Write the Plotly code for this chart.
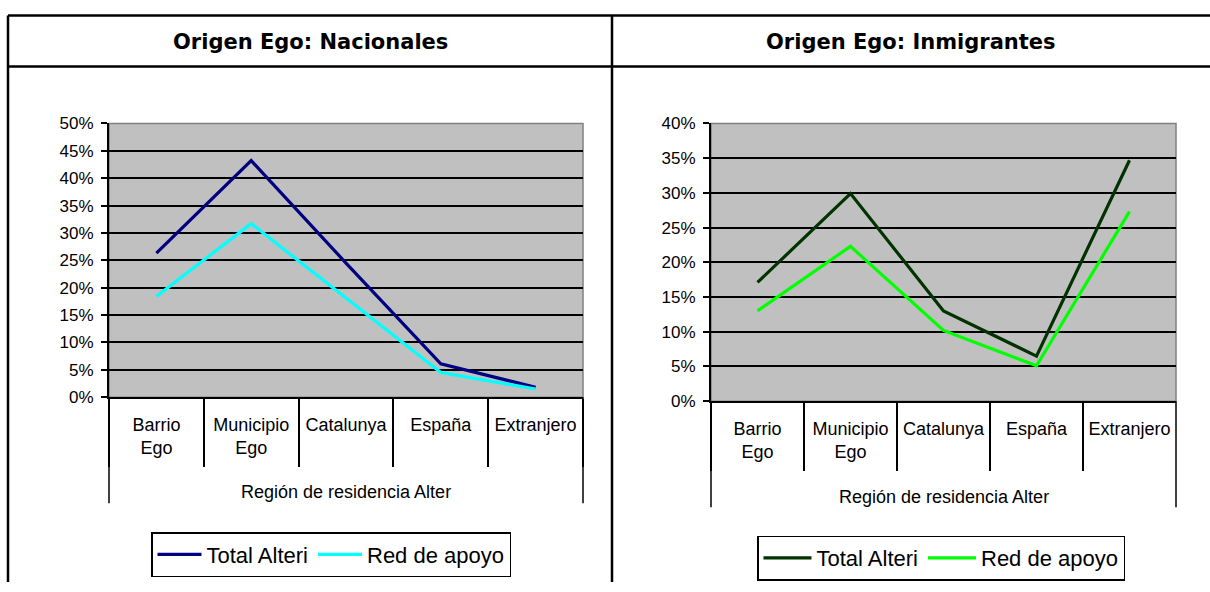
import plotly.graph_objects as go

# ---- data ----
categories = ["Barrio Ego", "Municipio Ego", "Catalunya", "España", "Extranjero"]
category_labels = ["Barrio<br>Ego", "Municipio<br>Ego", "Catalunya", "España", "Extranjero"]
nac_total = [0.263, 0.432, 0.245, 0.061, 0.018]
nac_red = [0.184, 0.317, 0.181, 0.045, 0.015]
inm_total = [0.171, 0.299, 0.130, 0.065, 0.347]
inm_red = [0.130, 0.223, 0.102, 0.051, 0.273]
series_names = ["Total Alteri", "Red de apoyo"]
panel_titles = ["Origen Ego: Nacionales", "Origen Ego: Inmigrantes"]
x_title = "Región de residencia Alter"

W, H = 1210, 592
FONT = "Liberation Sans, Arial, sans-serif"

# the photographed page maps figure y to picture y as 8.5 + 0.9686*y;
# positions below are given in picture pixels and converted back
Y_OFF, Y_SCALE = 8.5, 0.9686


def px(x):
    return x / W


def fy(y):
    return (y - Y_OFF) / Y_SCALE


def py(y):
    return 1 - fy(y) / H


fig = go.Figure()

fig.add_trace(go.Scatter(x=categories, y=nac_total, name=series_names[0], mode="lines",
                         line=dict(color="#000080", width=3.2), xaxis="x", yaxis="y", legend="legend"))
fig.add_trace(go.Scatter(x=categories, y=nac_red, name=series_names[1], mode="lines",
                         line=dict(color="#00FFFF", width=3.2), xaxis="x", yaxis="y", legend="legend"))
fig.add_trace(go.Scatter(x=categories, y=inm_total, name=series_names[0], mode="lines",
                         line=dict(color="#003300", width=3.2), xaxis="x2", yaxis="y2", legend="legend2"))
fig.add_trace(go.Scatter(x=categories, y=inm_red, name=series_names[1], mode="lines",
                         line=dict(color="#00FF00", width=3.2), xaxis="x2", yaxis="y2", legend="legend2"))

# panel geometry (picture pixels)
left = dict(x0=109, x1=583, ytop=123, ybot=397, tickend=463, outer=503, lab=492)
right = dict(x0=711, x1=1176, ytop=123, ybot=401, tickend=467, outer=507, lab=497)

xcommon = dict(type="category", categoryorder="array", categoryarray=categories,
               tickmode="array", tickvals=categories, ticktext=category_labels,
               range=[-0.5, len(categories) - 0.5],
               tickson="boundaries", ticks="outside", tickcolor="black", tickwidth=1.5,
               showline=True, linecolor="black", linewidth=2, showgrid=False, zeroline=False,
               tickfont=dict(family=FONT, size=18, color="black"), ticklabelstandoff=10,
               fixedrange=True)
ycommon = dict(tickformat=".0%", dtick=0.05, ticks="outside", ticklen=6, tickcolor="black",
               tickwidth=1.5, showline=True, linecolor="black", linewidth=2,
               showgrid=True, gridcolor="black", gridwidth=1.5, zeroline=False,
               tickfont=dict(family=FONT, size=17, color="black"), ticklabelstandoff=4,
               fixedrange=True)

fig.update_layout(
    width=W, height=H,
    margin=dict(l=0, r=0, t=0, b=0),
    paper_bgcolor="white", plot_bgcolor="#C0C0C0",
    showlegend=True,
    xaxis=dict(xcommon, domain=[px(left["x0"]), px(left["x1"])], anchor="y",
               ticklen=round(fy(left["tickend"]) - fy(left["ybot"]))),
    yaxis=dict(ycommon, domain=[py(left["ybot"]), py(left["ytop"])], anchor="x", range=[0, 0.5]),
    xaxis2=dict(xcommon, domain=[px(right["x0"]), px(right["x1"])], anchor="y2",
                ticklen=round(fy(right["tickend"]) - fy(right["ybot"]))),
    yaxis2=dict(ycommon, domain=[py(right["ybot"]), py(right["ytop"])], anchor="x2", range=[0, 0.4]),
    legend=dict(orientation="h", x=px(331), y=py(554.5), xanchor="center", yanchor="middle",
                bordercolor="black", borderwidth=1.5, bgcolor="white",
                font=dict(family=FONT, size=22, color="black"), itemwidth=44),
    legend2=dict(orientation="h", x=px(941), y=py(558), xanchor="center", yanchor="middle",
                 bordercolor="black", borderwidth=1.5, bgcolor="white",
                 font=dict(family=FONT, size=22, color="black"), itemwidth=48),
)

shapes = []
# table borders
for yy in (15, 66):
    shapes.append(dict(type="line", xref="paper", yref="paper", x0=px(8), x1=1, y0=py(yy), y1=py(yy),
                       line=dict(color="black", width=2.5)))
for xx in (8, 612):
    shapes.append(dict(type="line", xref="paper", yref="paper", x0=px(xx), x1=px(xx), y0=py(15), y1=0,
                       line=dict(color="black", width=2.5)))

annotations = []
for ax, g, title, cx in (("x", left, panel_titles[0], 310), ("x2", right, panel_titles[1], 911)):
    # plot-area gray border
    shapes.append(dict(type="rect", xref=f"{ax} domain", yref=f"{'y' if ax == 'x' else 'y2'} domain",
                       x0=0, x1=1, y0=0, y1=1, line=dict(color="#808080", width=1.5), layer="below"))
    # outer group lines
    for xd in (0, 1):
        shapes.append(dict(type="line", xref=f"{ax} domain", yref="paper", x0=xd, x1=xd,
                           y0=py(g["ybot"]), y1=py(g["outer"]), line=dict(color="black", width=1.5)))
    annotations.append(dict(text=x_title, xref=f"{ax} domain", yref="paper", x=0.5, y=py(g["lab"]),
                            showarrow=False, xanchor="center", yanchor="middle",
                            font=dict(family=FONT, size=18, color="black")))
    annotations.append(dict(text=f"<b>{title}</b>", xref="paper", yref="paper", x=px(cx), y=py(42),
                            showarrow=False, xanchor="center", yanchor="middle",
                            font=dict(family="DejaVu Sans", size=21, color="black")))

fig.update_layout(shapes=shapes, annotations=annotations)

post = (
    "document.documentElement.style.margin='0';"
    "document.documentElement.style.overflow='hidden';"
    "document.body.style.margin='0';"
    "document.body.style.overflow='hidden';"
    "var d=document.getElementById('{plot_id}');"
    "d.style.position='fixed';d.style.top='0px';d.style.left='0px';"
)

fig.write_html("out.html", config={"displayModeBar": False}, post_script=post)
